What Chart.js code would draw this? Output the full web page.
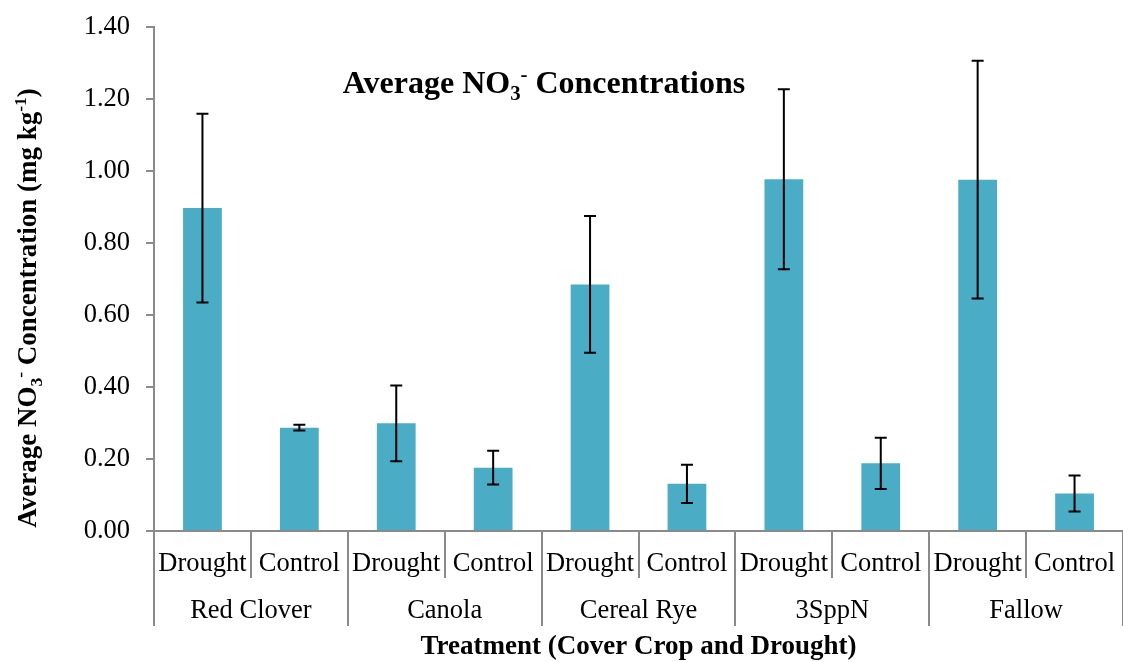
<!DOCTYPE html>
<html>
<head>
<meta charset="utf-8">
<script src="https://cdn.jsdelivr.net/npm/chart.js@4.4.1/dist/chart.umd.min.js"></script>
<style>
  body { margin: 0; background: #fff; }
  #wrap { width: 1123px; height: 662px; position: relative; }
</style>
</head>
<body>
<div id="wrap"><canvas id="no3Chart"></canvas></div>
<script>
// data
const treatments = ['Red Clover', 'Canola', 'Cereal Rye', '3SppN', 'Fallow'];
const conditions = ['Drought', 'Control'];
const meanNO3 = [0.897, 0.287, 0.299, 0.176, 0.685, 0.131, 0.977, 0.188, 0.976, 0.104];
const errNO3 = [0.262, 0.008, 0.105, 0.047, 0.190, 0.053, 0.250, 0.071, 0.330, 0.050];

const serif = "'Times New Roman', 'Liberation Serif', serif";
const axisGrey = '#8a8a8a';
const barColor = '#4BACC6';
const labelSize = 26.5;
const boldSize = 27;

// one label per bar: Drought / Control repeated for each treatment
const barLabels = treatments.flatMap(() => conditions);

// text with sub/superscripts: parts = [[text, 'sub'|'sup'|''], ...]
function richWidth(ctx, parts, size, weight) {
    let w = 0;
    parts.forEach(([t, mode]) => {
        const s = mode ? size * 0.65 : size;
        ctx.font = `${weight} ${s}px ${serif}`;
        w += ctx.measureText(t).width;
    });
    return w;
}
function drawRich(ctx, parts, x, y, size, weight) {
    let cx = x - richWidth(ctx, parts, size, weight) / 2;
    ctx.textAlign = 'left';
    ctx.textBaseline = 'alphabetic';
    parts.forEach(([t, mode]) => {
        const s = mode ? size * 0.65 : size;
        ctx.font = `${weight} ${s}px ${serif}`;
        let dy = 0;
        if (mode === 'sub') dy = size * 0.22;
        if (mode === 'sup') dy = -size * 0.38;
        ctx.fillText(t, cx, y + dy);
        cx += ctx.measureText(t).width;
    });
}

const titleParts = [['Average NO', ''], ['3', 'sub'], ['-', 'sup'], [' Concentrations', '']];
const yTitleParts = [['Average NO', ''], ['3', 'sub'], ['-', 'sup'], [' Concentration (mg kg', ''], ['-1', 'sup'], [')', '']];
const xTitle = 'Treatment (Cover Crop and Drought)';

const decorations = {
    id: 'decorations',
    afterDatasetsDraw(chart) {
        const { ctx, scales: { x, y } } = chart;
        ctx.save();
        ctx.strokeStyle = '#000';
        ctx.lineWidth = 2;
        meanNO3.forEach((m, i) => {
            const cx = x.getPixelForValue(i);
            const top = y.getPixelForValue(m + errNO3[i]);
            const bot = y.getPixelForValue(m - errNO3[i]);
            ctx.beginPath();
            ctx.moveTo(cx, top); ctx.lineTo(cx, bot);
            ctx.moveTo(cx - 6, top); ctx.lineTo(cx + 6, top);
            ctx.moveTo(cx - 6, bot); ctx.lineTo(cx + 6, bot);
            ctx.stroke();
        });
        ctx.restore();
    },
    afterDraw(chart) {
        const { ctx, chartArea: area, scales: { x } } = chart;
        ctx.save();
        // category separators, longer ones between treatments
        ctx.strokeStyle = axisGrey;
        ctx.lineWidth = 2;
        for (let i = 0; i <= barLabels.length; i++) {
            const px = Math.round(x.getPixelForValue(i - 0.5));
            const long = i % conditions.length === 0;
            ctx.beginPath();
            ctx.moveTo(px, area.bottom);
            ctx.lineTo(px, area.bottom + (long ? 95 : 47));
            ctx.stroke();
        }
        // treatment labels
        ctx.fillStyle = '#000';
        ctx.font = `${labelSize}px ${serif}`;
        ctx.textAlign = 'center';
        ctx.textBaseline = 'middle';
        treatments.forEach((t, g) => {
            const px = x.getPixelForValue(g * conditions.length + (conditions.length - 1) / 2);
            ctx.fillText(t, px, area.bottom + 80);
        });
        // x axis title
        ctx.font = `bold ${boldSize}px ${serif}`;
        ctx.fillText(xTitle, (area.left + area.right) / 2, area.bottom + 116);
        // chart title
        drawRich(ctx, titleParts, 544, 93, 32, 'bold');
        // y axis title
        ctx.translate(36, 308);
        ctx.rotate(-Math.PI / 2);
        drawRich(ctx, yTitleParts, 0, 0, boldSize, 'bold');
        ctx.restore();
    }
};

const ctx = document.getElementById('no3Chart').getContext('2d');
const chart = new Chart(ctx, {
    type: 'bar',
    data: {
        labels: barLabels,
        datasets: [{
            data: meanNO3,
            backgroundColor: barColor,
            borderWidth: 0,
            categoryPercentage: 1,
            barPercentage: 0.4
        }]
    },
    options: {
        responsive: true,
        maintainAspectRatio: false,
        animation: false,
        layout: { padding: { top: 27, left: 0, right: 0, bottom: 0 } },
        plugins: {
            legend: { display: false },
            tooltip: { enabled: false }
        },
        scales: {
            x: {
                grid: { display: true, drawOnChartArea: false, drawTicks: false },
                border: { display: true, color: axisGrey, width: 2 },
                ticks: {
                    color: '#000',
                    font: { family: serif, size: labelSize },
                    padding: 17,
                    autoSkip: false,
                    maxRotation: 0
                },
                afterFit: (scale) => {
                    scale.height = 131;
                    scale.paddingLeft = 0;
                    scale.paddingRight = 0;
                }
            },
            y: {
                min: 0,
                max: 1.4,
                grid: { drawOnChartArea: false, drawTicks: true, tickLength: 8, color: axisGrey, lineWidth: 2 },
                border: { display: true, color: axisGrey, width: 2 },
                ticks: {
                    stepSize: 0.2,
                    color: '#000',
                    font: { family: serif, size: labelSize },
                    padding: 16,
                    callback: (v) => v.toFixed(2)
                },
                afterFit: (scale) => {
                    scale.width = 154;
                    scale.paddingTop = 0;
                    scale.paddingBottom = 0;
                }
            }
        }
    },
    plugins: [decorations]
});
</script>
</body>
</html>
